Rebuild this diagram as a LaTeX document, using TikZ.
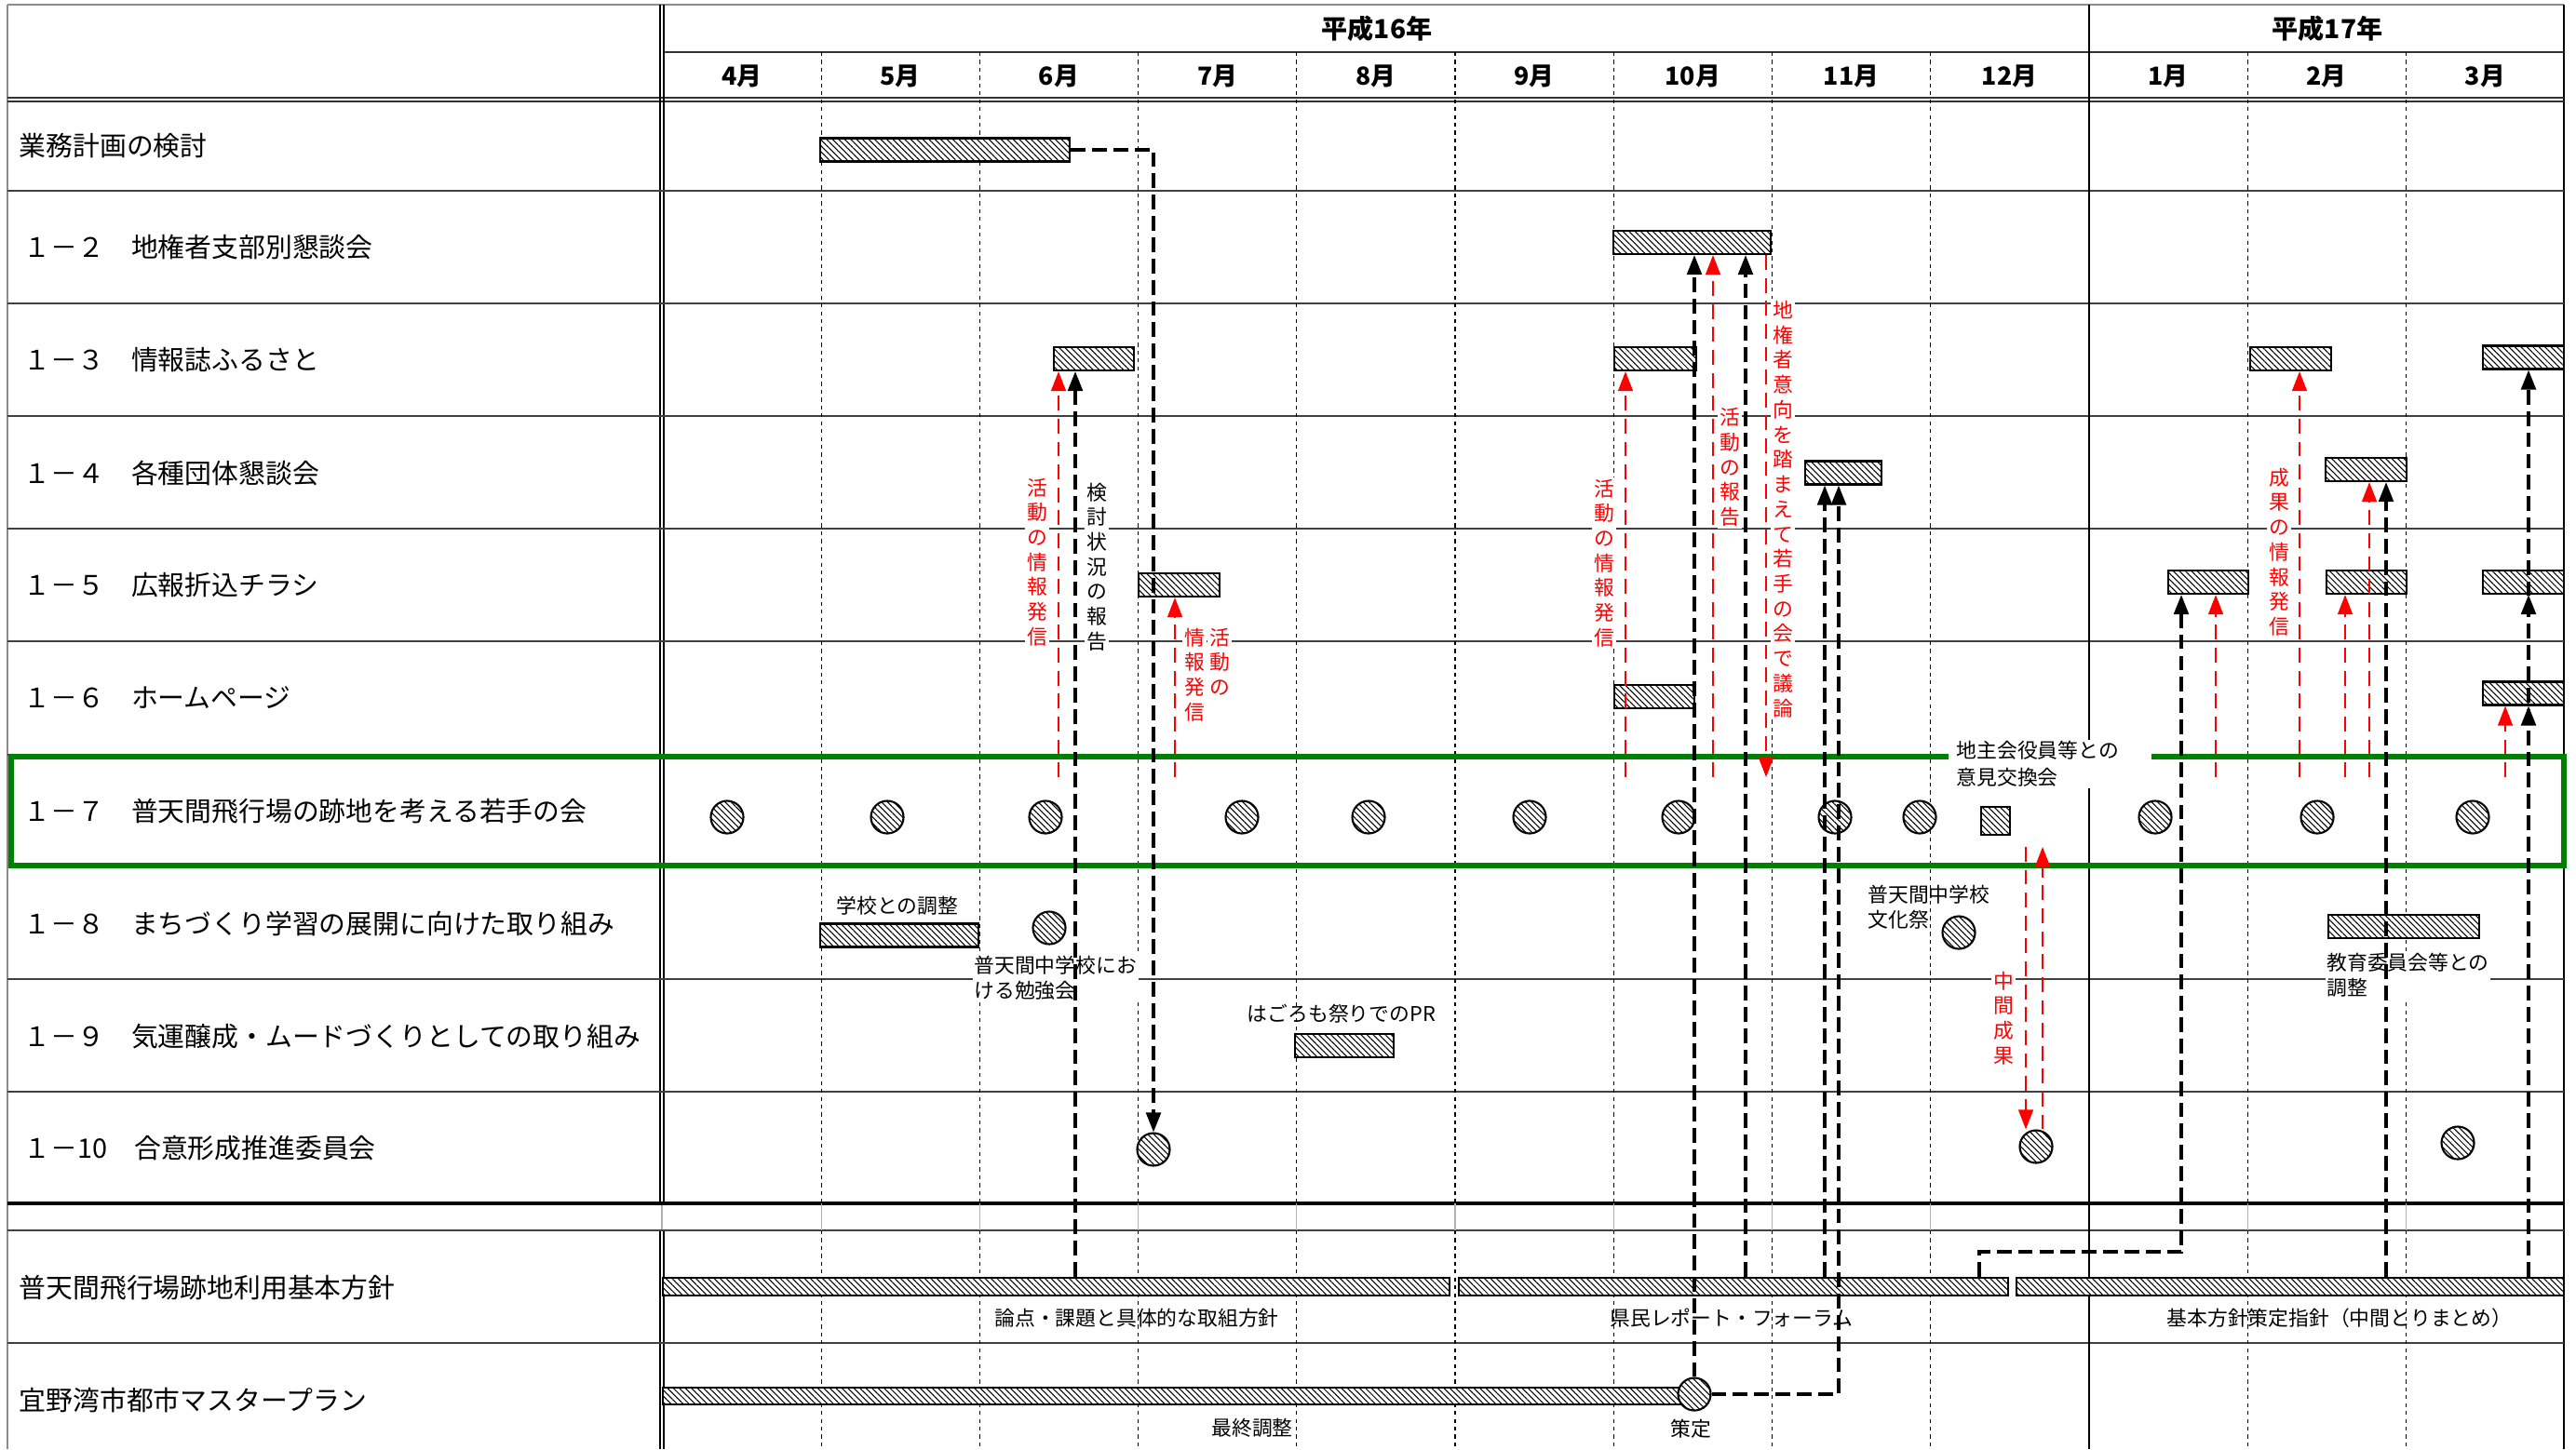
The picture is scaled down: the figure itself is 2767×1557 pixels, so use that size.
\documentclass[tikz,border=0pt]{standalone}
\usepackage{fontspec}
\setmainfont{Noto Sans CJK JP}
\usetikzlibrary{arrows.meta, patterns.meta}
\definecolor{rowgreen}{RGB}{0,128,0}

\begin{document}
\begin{tikzpicture}[x=0.01cm, y=-0.01cm,
  rowline/.style={draw=black!75, line width=0.8pt},
  mline/.style={black, line width=0.3pt, dash pattern=on 1.2pt off 1.2pt},
  hatch/.style={preaction={fill=white}, pattern={Lines[angle=-45, distance=1.3pt, line width=0.3pt]}},
  hbar/.style={hatch, draw, line width=0.6pt, inner sep=0pt, minimum height=0.25cm},
  mtg/.style={hatch, circle, draw, line width=0.6pt, inner sep=0pt, minimum size=0.35cm},
  blink/.style={line width=0.9pt, dash pattern=on 4.5pt off 2pt, -{Triangle[length=6pt, width=4.5pt]}},
  rlink/.style={red, line width=0.6pt, dash pattern=on 4.5pt off 2.5pt, -{Triangle[length=6pt, width=4.5pt]}},
  rowlab/.style={anchor=west, inner sep=0pt, font=\fontsize{8.2}{9}\selectfont},
  hdr/.style={font=\bfseries\fontsize{7.6}{9}\selectfont},
  note/.style={inner sep=0.5pt, align=left, font=\fontsize{6.2}{7.7}\selectfont},
  vlab/.style={fill=white, inner sep=0.6pt, align=center, font=\fontsize{6.2}{7.6}\selectfont}
]
  \useasboundingbox (0,0) rectangle (2767,1557);

  % frame and grid
  \draw[black!45, line width=0.4pt] (8,5) -- (2754,5) (8,5) -- (8,1557);
  \draw[line width=0.8pt] (2754,5) -- (2754,1557);
  \draw[black!80, line width=0.6pt] (712,56) -- (2754,56);
  \draw[black!80, line width=0.5pt] (8,105) -- (2754,105) (8,109) -- (2754,109);
  \draw[line width=0.5pt] (709,5) -- (709,1293) (713,5) -- (713,1293) (709,1322) -- (709,1557) (713,1322) -- (713,1557);
  \draw[black!30, line width=0.3pt] (711,1293) -- (711,1322);
  \foreach \y in {205,326,447,568,689,811,1052,1173,1322,1443}
    \draw[rowline] (8,\y) -- (2754,\y);
  \draw[line width=1.3pt] (8,1293) -- (2754,1293);
  \foreach \i in {1,2,3,4,5,6,7,8,10,11} {
    \draw[mline] ({712+170.2*\i},56) -- ({712+170.2*\i},1293);
    \draw[black!30, line width=0.3pt] ({712+170.2*\i},1293) -- ({712+170.2*\i},1322);
    \draw[mline] ({712+170.2*\i},1322) -- ({712+170.2*\i},1557);
  }
  \draw[line width=0.4pt] (2244,5) -- (2244,1557);
  \draw[rowgreen, line width=1.7pt] (12,813) rectangle (2754,930);

  % header
  \node[hdr, font=\bfseries\fontsize{8}{9}\selectfont] (y16) at (1479,31) {平成16年};
  \node[hdr, font=\bfseries\fontsize{8}{9}\selectfont] (y17) at (2500,31) {平成17年};
  \foreach \m [count=\i from 0] in {4,5,6,7,8,9,10,11,12,1,2,3}
    \node[hdr] (m\i) at ({797+170.2*\i},82) {\m 月};

  % row labels
  \node[rowlab] (l0) at (20,157) {業務計画の検討};
  \node[rowlab] (l2) at (25,266) {１－２　地権者支部別懇談会};
  \node[rowlab] (l3) at (25,387) {１－３　情報誌ふるさと};
  \node[rowlab] (l4) at (25,508) {１－４　各種団体懇談会};
  \node[rowlab] (l5) at (25,629) {１－５　広報折込チラシ};
  \node[rowlab] (l6) at (25,750) {１－６　ホームページ};
  \node[rowlab] (l7) at (25,872) {１－７　普天間飛行場の跡地を考える若手の会};
  \node[rowlab] (l8) at (25,992) {１－８　まちづくり学習の展開に向けた取り組み};
  \node[rowlab] (l9) at (25,1114) {１－９　気運醸成・ムードづくりとしての取り組み};
  \node[rowlab] (l10) at (25,1234) {１－10　合意形成推進委員会};
  \node[rowlab] (lk) at (20,1384) {普天間飛行場跡地利用基本方針};
  \node[rowlab] (lg) at (20,1504) {宜野湾市都市マスタープラン};

  % bars
  \node[hbar, minimum width=2.68cm] (b0) at (1015,161) {};
  \node[hbar, minimum width=1.69cm] (b12) at (1817.5,260.5) {};
  \node[hbar, minimum width=0.86cm] (b13a) at (1175,385.5) {};
  \node[hbar, minimum width=0.88cm] (b13b) at (1778,385.5) {};
  \node[hbar, minimum width=0.87cm] (b13c) at (2460.5,385.5) {};
  \node[hbar, minimum width=0.87cm] (b13d) at (2710.5,384) {};
  \node[hbar, minimum width=0.82cm] (b14a) at (1980,508) {};
  \node[hbar, minimum width=0.87cm] (b14b) at (2541.5,504.5) {};
  \node[hbar, minimum width=0.87cm] (b15a) at (1266.5,628.5) {};
  \node[hbar, minimum width=0.86cm] (b15b) at (2372,625.5) {};
  \node[hbar, minimum width=0.86cm] (b15c) at (2542,625.5) {};
  \node[hbar, minimum width=0.87cm] (b15d) at (2710.5,625.5) {};
  \node[hbar, minimum width=0.86cm] (b16a) at (1777,748.5) {};
  \node[hbar, minimum width=0.87cm] (b16b) at (2710.5,745) {};
  \node[hbar, minimum width=0.31cm, minimum height=0.30cm] (b17) at (2143.5,882) {};
  \node[hbar, minimum width=1.70cm] (b18a) at (966,1005) {};
  \node[hbar, minimum width=1.62cm] (b18b) at (2582,995.5) {};
  \node[hbar, minimum width=1.06cm] (b19) at (1444,1123.5) {};
  \node[hbar, minimum width=8.45cm, minimum height=0.19cm] (kb1) at (1134.5,1382.5) {};
  \node[hbar, minimum width=5.90cm, minimum height=0.19cm] (kb2) at (1862,1382.5) {};
  \node[hbar, minimum width=5.88cm, minimum height=0.19cm] (kb3) at (2460,1382.5) {};
  \node[hbar, minimum width=10.98cm, minimum height=0.18cm] (gb) at (1261,1500) {};

  % meetings
  \foreach \x [count=\i] in {781,953,1123,1334,1470,1643,1803,1971,2062,2315,2489,2656}
    \node[mtg] (w\i) at (\x,878) {};
  \node[mtg] (c18a) at (1127,997) {};
  \node[mtg] (c18b) at (2104,1002) {};
  \node[mtg] (c10a) at (1239,1235) {};
  \node[mtg] (c10b) at (2187,1232) {};
  \node[mtg] (c10c) at (2640,1228) {};
  \node[mtg] (cg) at (1820,1498) {};

  % notes
  \node[note] (n1) at (964,973) {学校との調整};
  \node[note, fill=white, anchor=north west] (n2) at (1044,1025) {普天間中学校にお\\ける勉強会};
  \node[note, anchor=north west] (n3) at (2004,949) {普天間中学校\\文化祭};
  \node[note, fill=white, anchor=north west] (n4) at (2497,1022) {教育委員会等との\\調整};
  \node[note] (n5) at (1441,1089) {はごろも祭りでのPR};
  \node[note, fill=white, anchor=north west, text width=2.0cm, inner xsep=0.09cm, font=\fontsize{6.2}{8.2}\selectfont] (n6) at (2092,794) {地主会役員等との\\意見交換会};
  \node[note] (n7) at (1221,1416) {論点・課題と具体的な取組方針};
  \node[note] (n8) at (1860,1416) {県民レポート・フォーラム};
  \node[note] (n9) at (2513,1416) {基本方針策定指針（中間とりまとめ）};
  \node[note] (n10) at (1345,1534) {最終調整};
  \node[note] (n11) at (1816,1535) {策定};

  % vertical labels
  \node[vlab, text=red] (v1) at (1114,604) {活\\動\\の\\情\\報\\発\\信};
  \node[vlab] (v2) at (1178,609) {検\\討\\状\\況\\の\\報\\告};
  \node[vlab, text=red, anchor=north] (v3) at (1310,672) {活\\動\\の};
  \node[vlab, text=red, anchor=north] (v4) at (1283,672) {情\\報\\発\\信};
  \node[vlab, text=red] (v5) at (1723,605) {活\\動\\の\\情\\報\\発\\信};
  \node[vlab, text=red] (v6) at (1858,502) {活\\動\\の\\報\\告};
  \node[vlab, text=red] (v7) at (1915,547) {地\\権\\者\\意\\向\\を\\踏\\ま\\え\\て\\若\\手\\の\\会\\で\\議\\論};
  \node[vlab, text=red] (v8) at (2448,593) {成\\果\\の\\情\\報\\発\\信};
  \node[vlab, text=red] (v9) at (2152,1094) {中\\間\\成\\果};

  % connectors
  \coordinate (rs) at (0,835);
  \coordinate (mt) at (0,910);
  \coordinate (k7) at (2343,1345);
  \draw[blink] (b0.east) -| (c10a.north);
  \draw[blink] (kb1.north -| 1155,0) -- (b13a.south -| 1155,0);
  \draw[blink] (cg.north) -- (cg.north |- b12.south);
  \draw[blink] (kb2.north -| 1875,0) -- (b12.south -| 1875,0);
  \draw[blink] (kb2.north -| 1960,0) -- (b14a.south -| 1960,0);
  \draw[blink] (cg.east) -| (b14a.south -| 1975,0);
  \draw[blink] (kb2.north -| 2126,0) |- (k7) -- (b15b.south -| k7);
  \draw[blink] (kb3.north -| 2563,0) -- (b14b.south -| 2563,0);
  \foreach \t in {b13d,b15d,b16b}
    \draw[blink] (kb3.north -| 2716,0) -- (\t.south -| 2716,0);

  \draw[rlink] (rs -| 1137,0) -- (b13a.south -| 1137,0);
  \draw[rlink] (rs -| 1262,0) -- (b15a.south -| 1262,0);
  \draw[rlink] (rs -| 1746,0) -- (b13b.south -| 1746,0);
  \draw[rlink] (rs -| 1840,0) -- (b12.south -| 1840,0);
  \draw[rlink] (b12.south -| 1897,0) -- (rs -| 1897,0);
  \draw[rlink] (rs -| 2380,0) -- (b15b.south -| 2380,0);
  \draw[rlink] (rs -| 2470,0) -- (b13c.south -| 2470,0);
  \draw[rlink] (rs -| 2519,0) -- (b15c.south -| 2519,0);
  \draw[rlink] (rs -| 2545,0) -- (b14b.south -| 2545,0);
  \draw[rlink] (rs -| 2691,0) -- (b16b.south -| 2691,0);
  \draw[rlink] (mt -| 2176,0) -- (c10b.north -| 2176,0);
  \draw[rlink] (c10b.north -| 2194,0) -- (mt -| 2194,0);
\end{tikzpicture}
\end{document}
